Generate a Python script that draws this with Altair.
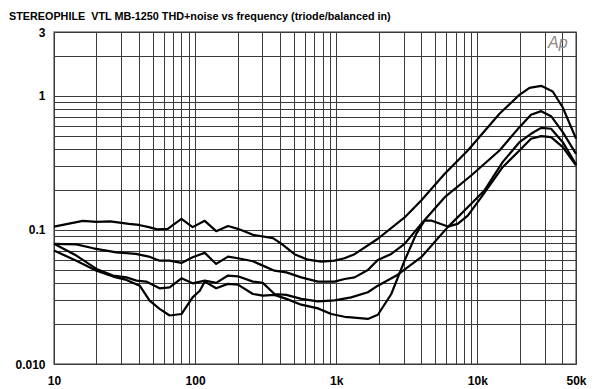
import altair as alt
import pandas as pd

title_text = "STEREOPHILE \u00a0VTL MB-1250 THD+noise vs frequency (triode/balanced in)"

# Curve 1 (highest)
freq_1 = [10, 16, 20, 25, 34, 40, 47, 54, 64, 80, 96, 117, 141, 171, 201, 257, 356, 408, 506, 629, 783, 973,
          1145, 1349, 1973, 3050, 4000, 5850, 8550, 14350, 19870, 23400, 28300, 34200, 40300, 50000]
thd_1 = [0.106, 0.117, 0.115, 0.116, 0.111, 0.109, 0.105, 0.101, 0.102, 0.121, 0.105, 0.117, 0.098, 0.107,
         0.102, 0.092, 0.087, 0.079, 0.066, 0.060, 0.058, 0.059, 0.0615, 0.066, 0.086, 0.124, 0.166, 0.262,
         0.392, 0.736, 1.02, 1.15, 1.19, 1.08, 0.82, 0.48]

# Curve 2
freq_2 = [10, 14.4, 19, 27.7, 38, 47, 56, 66, 80, 96, 117, 141, 171, 201, 257, 302, 365, 443, 565, 741, 973,
          1145, 1349, 1675, 1973, 2455, 3050, 4000, 5850, 9040, 14350, 19870, 24000, 28300, 33300, 40300, 50000]
thd_2 = [0.0788, 0.078, 0.073, 0.0681, 0.0663, 0.0633, 0.059, 0.059, 0.0568, 0.0626, 0.0675, 0.0558, 0.0633,
         0.0615, 0.0584, 0.0542, 0.0497, 0.0483, 0.0443, 0.0412, 0.0412, 0.0431, 0.0443, 0.0503, 0.0598, 0.0663,
         0.0788, 0.111, 0.175, 0.255, 0.392, 0.585, 0.724, 0.77, 0.706, 0.537, 0.37]

# Curve 3
freq_3 = [10, 14.4, 20, 26.2, 32.6, 38.4, 45, 56, 66, 80, 96, 117, 141, 171, 201, 257, 302, 365, 443, 565, 741,
          973, 1276, 1675, 1973, 2730, 4000, 6170, 8550, 11200, 15100, 19870, 24000, 28300, 33300, 40300, 50000]
thd_3 = [0.0788, 0.0644, 0.0512, 0.0457, 0.0443, 0.0419, 0.0412, 0.0367, 0.0373, 0.0436, 0.0400, 0.0419,
         0.0403, 0.0457, 0.0451, 0.0412, 0.0403, 0.0333, 0.0328, 0.0306, 0.0293, 0.0298, 0.0314, 0.0343, 0.0384,
         0.0464, 0.0626, 0.105, 0.148, 0.197, 0.321, 0.452, 0.522, 0.578, 0.569, 0.452, 0.308]

# Curve 4 (lowest in mid band)
freq_4 = [10, 14.4, 20, 26.2, 32.6, 40.5, 47.6, 56, 66, 80, 96, 108, 117, 141, 171, 201, 257, 302, 365, 443, 565,
          741, 922, 1145, 1276, 1675, 1973, 2455, 3050, 3690, 4220, 4710, 6170, 7260, 8550, 10640, 15100, 19870,
          24000, 28300, 33300, 40300, 50000]
thd_4 = [0.0702, 0.059, 0.0497, 0.0449, 0.0424, 0.0384, 0.0297, 0.0258, 0.0230, 0.0236, 0.0314, 0.0352, 0.0412,
         0.0367, 0.0396, 0.0391, 0.0333, 0.0324, 0.0328, 0.0306, 0.0277, 0.0260, 0.0236, 0.0225, 0.0223, 0.0217,
         0.0233, 0.0333, 0.059, 0.0935, 0.1175, 0.1175, 0.106, 0.111, 0.128, 0.175, 0.294, 0.392, 0.479, 0.501,
         0.493, 0.415, 0.303]

x_grid = [10, 20, 30, 40, 50, 60, 70, 80, 90, 100, 200, 300, 400, 500, 600, 700, 800, 900,
          1000, 2000, 3000, 4000, 5000, 6000, 7000, 8000, 9000, 10000, 20000, 30000, 40000, 50000]
x_labels = {10: "10", 100: "100", 1000: "1k", 10000: "10k", 50000: "50k"}
y_grid = [0.01, 0.02, 0.03, 0.04, 0.05, 0.06, 0.07, 0.08, 0.09, 0.1, 0.2, 0.3, 0.4, 0.5, 0.6, 0.7, 0.8, 0.9,
          1, 2, 3]
y_labels = {3: "3", 1: "1", 0.1: "0.1", 0.01: "0.010"}

rows = []
for sid, (fs, vs) in enumerate([(freq_1, thd_1), (freq_2, thd_2), (freq_3, thd_3), (freq_4, thd_4)]):
    for i, (f, v) in enumerate(zip(fs, vs)):
        rows.append({"series": f"c{sid}", "freq": f, "thd": v, "i": i})
df = pd.DataFrame(rows)


def label_expr(d):
    parts = []
    for k, v in d.items():
        parts.append(f"abs(datum.value - {k}) < {k} * 0.001 ? '{v}'")
    return " : ".join(parts) + " : ''"


FONT = "Liberation Sans"

xscale = alt.Scale(type="log", domain=[10, 50000], nice=False)
yscale = alt.Scale(type="log", domain=[0.01, 3], nice=False)

lines = alt.Chart(df).mark_line(color="black", strokeWidth=2.2, strokeJoin="round").encode(
    x=alt.X("freq:Q", scale=xscale, title=None,
            axis=alt.Axis(values=x_grid, labelExpr=label_expr(x_labels), grid=True, gridColor="#3a3a3a",
                          gridWidth=1, ticks=False, domain=False, labelPadding=11, labelFont=FONT,
                          labelFontSize=12, labelFontWeight="bold", labelColor="black", labelOverlap=False,
                          labelFlush=False)),
    y=alt.Y("thd:Q", scale=yscale, title=None,
            axis=alt.Axis(values=y_grid, labelExpr=label_expr(y_labels), grid=True, gridColor="#3a3a3a",
                          gridWidth=1, ticks=False, domain=False, labelPadding=9, labelFont=FONT,
                          labelFontSize=12, labelFontWeight="bold", labelColor="black", labelOverlap=False,
                          labelFlush=False)),
    detail="series:N",
    order="i:Q",
)

title = alt.Chart(pd.DataFrame({"t": [title_text]})).mark_text(
    align="left", baseline="alphabetic", font=FONT, fontSize=10.8, fontWeight="bold", color="black"
).encode(x=alt.value(-45), y=alt.value(-12), text="t:N")

logo = alt.Chart(pd.DataFrame({"t": ["Ap"]})).mark_text(
    align="left", baseline="alphabetic", font=FONT, fontSize=16, fontStyle="italic", color="#888"
).encode(x=alt.value(494), y=alt.value(16), text="t:N")

chart = alt.layer(lines, title, logo).properties(
    width=522, height=332,
    autosize=alt.AutoSizeParams(type="none"),
    padding={"left": 46, "top": 24, "right": 16, "bottom": 25},
    background="white",
).configure_view(stroke="#777", strokeWidth=1.5)

chart.save("out.html", embed_options={"renderer": "svg", "actions": False})
